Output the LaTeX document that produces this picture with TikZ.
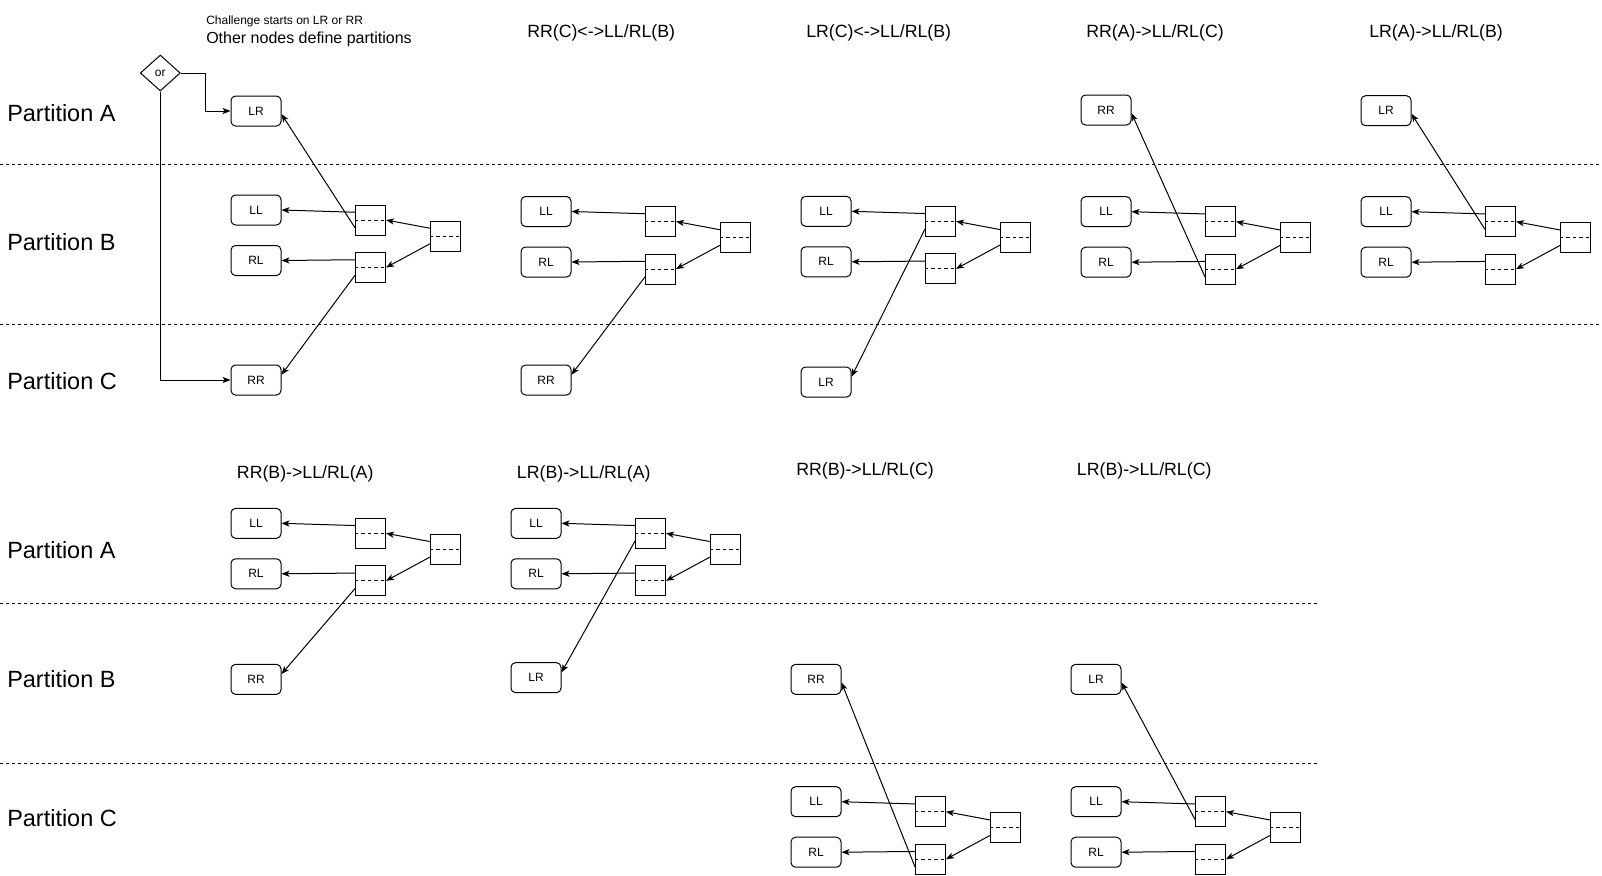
\documentclass[tikz,border=0pt]{standalone}
\usepackage{fontspec}
\setmainfont{Liberation Sans}
\usetikzlibrary{arrows.meta,calc,shapes.geometric}
\tikzset{
  lbl/.style={draw, rounded corners=3.4pt, minimum width=37.5pt, minimum height=22.5pt, inner sep=0pt, line width=0.75pt, font=\fontsize{9}{10}\selectfont},
  sq/.style={draw, minimum width=22.5pt, minimum height=22.5pt, inner sep=0pt, line width=0.75pt},
  arr/.style={-{Stealth[length=6pt,width=4.6pt,inset=1.6pt]}, line width=0.75pt},
  mid/.style={dash pattern=on 2.6pt off 2.2pt, line width=0.6pt},
  part/.style={dash pattern=on 2.25pt off 2.25pt, line width=0.75pt},
  ptxt/.style={anchor=west, inner sep=0pt, font=\fontsize{17.6}{20}\selectfont},
  ttl/.style={anchor=base west, inner sep=0pt, font=\fontsize{13.3}{15}\selectfont},
}
\newcommand{\grp}[3]{%
  \node[lbl] (#1ll) at ({#2+25},{#3+15}) {LL};
  \node[lbl] (#1rl) at ({#2+25},{#3+65.5}) {RL};
  \node[sq] (#1a) at ({#2+139.5},{#3+25}) {};
  \node[sq] (#1b) at ({#2+139.5},{#3+72.5}) {};
  \node[sq] (#1r) at ({#2+214.5},{#3+41}) {};
  \draw[mid] (#1a.west) -- (#1a.east);
  \draw[mid] (#1b.west) -- (#1b.east);
  \draw[mid] (#1r.west) -- (#1r.east);
  \draw[arr] ($(#1a.north west)!0.25!(#1a.south west)$) -- (#1ll.east);
  \draw[arr] ($(#1b.north west)!0.25!(#1b.south west)$) -- (#1rl.east);
  \draw[arr] ($(#1r.north west)!0.25!(#1r.south west)$) -- (#1a.east);
  \draw[arr] ($(#1r.north west)!0.75!(#1r.south west)$) -- (#1b.east);
}
% #1 source box, #2 target node, #3 fraction along east edge
\newcommand{\third}[3]{%
  \draw[arr] ($(#1.north west)!0.75!(#1.south west)$) -- ($(#2.north east)!#3!(#2.south east)$);
}
\begin{document}
\begin{tikzpicture}[x=0.75pt,y=-0.75pt]
\fill[white] (0,0) rectangle (1602,875);
\useasboundingbox (0,0) rectangle (1602,875);

% partition separators
\draw[part] (0,164.5) -- (1602,164.5);
\draw[part] (0,324.5) -- (1602,324.5);
\draw[part] (0,603.3) -- (1318,603.3);
\draw[part] (0,763.3) -- (1318,763.3);

% partition labels
\node[ptxt] (pa1) at (7,113.3) {Partition A};
\node[ptxt] (pb1) at (7,242) {Partition B};
\node[ptxt] (pc1) at (7,381) {Partition C};
\node[ptxt] (pa2) at (7,550) {Partition A};
\node[ptxt] (pb2) at (7,679.5) {Partition B};
\node[ptxt] (pc2) at (7,818.5) {Partition C};

% header texts
\node[anchor=base west, inner sep=0pt, font=\fontsize{9}{10}\selectfont] (h1) at (206,24.6) {Challenge starts on LR or RR};
\node[anchor=base west, inner sep=0pt, font=\fontsize{12}{14}\selectfont] (h2) at (206,43.8) {Other nodes define partitions};

% titles
\node[ttl] (t2) at (527,37.5) {RR(C)<->LL/RL(B)};
\node[ttl] (t3) at (806,37.5) {LR(C)<->LL/RL(B)};
\node[ttl] (t4) at (1086,37.5) {RR(A)->LL/RL(C)};
\node[ttl] (t5) at (1369,37.5) {LR(A)->LL/RL(B)};
\node[ttl] (t6) at (236.7,478) {RR(B)->LL/RL(A)};
\node[ttl] (t7) at (516.7,478) {LR(B)->LL/RL(A)};
\node[ttl] (t8) at (796,475.5) {RR(B)->LL/RL(C)};
\node[ttl] (t9) at (1076.7,475.5) {LR(B)->LL/RL(C)};

% group 1
\grp{ga}{231}{195}
\node[lbl] (galr) at (256,111) {LR};
\node[lbl] (garr) at (256,380) {RR};
\third{gaa}{galr}{0.6}
\third{gab}{garr}{0.33}
\node[diamond, draw, line width=0.75pt, minimum width=30pt, minimum height=27pt, inner sep=0pt, font=\fontsize{9}{10}\selectfont] (or) at (160.3,73) {or};
\draw[arr] (or.east) -- ++(25,0) |- (galr.west);
\draw[arr] (or.south) |- (garr.west);

% group 2
\grp{gb}{521}{196.5}
\node[lbl] (gbrr) at (546,380) {RR};
\third{gbb}{gbrr}{0.33}

% group 3
\grp{gc}{801}{196.3}
\node[lbl] (gclr) at (826,382) {LR};
\third{gca}{gclr}{0.33}

% group 4
\grp{gd}{1081}{196.7}
\node[lbl] (gdrr) at (1106,110) {RR};
\third{gdb}{gdrr}{0.6}

% group 5
\grp{ge}{1361}{196.7}
\node[lbl] (gelr) at (1386,110.7) {LR};
\third{gea}{gelr}{0.6}

% bottom group 1
\grp{gf}{231}{508.3}
\node[lbl] (gfrr) at (256,679.3) {RR};
\third{gfb}{gfrr}{0.33}

% bottom group 2
\grp{gg}{511}{508.3}
\node[lbl] (gglr) at (536,677.7) {LR};
\third{gga}{gglr}{0.33}

% bottom group 3
\grp{gh}{791}{786.7}
\node[lbl] (ghrr) at (816,679.3) {RR};
\third{ghb}{ghrr}{0.6}

% bottom group 4
\grp{gi}{1071}{786.7}
\node[lbl] (gilr) at (1096,679.3) {LR};
\third{gia}{gilr}{0.6}
\end{tikzpicture}
\end{document}
